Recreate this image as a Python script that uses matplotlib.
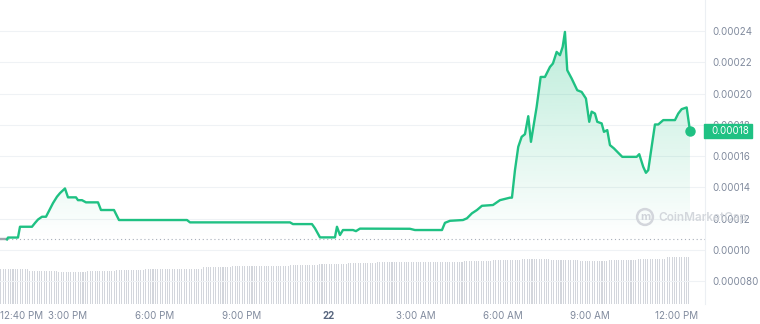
import numpy as np
import matplotlib.pyplot as plt
from matplotlib.patches import Rectangle, Polygon
from matplotlib.colors import to_rgb
from matplotlib.transforms import blended_transform_factory

plt.rcParams['font.family'] = ['Inter', 'DejaVu Sans']

# ---------------- data (time = hours since midnight of the 21st)
hours = [12.667, 12.894, 12.93, 13.274, 13.343, 13.757, 13.861, 13.964, 14.103, 14.241,
         14.482, 14.620, 14.724, 14.896, 15.0, 15.276, 15.345, 15.483, 15.621, 16.036,
         16.139, 16.588, 16.760, 19.108, 19.211, 22.663, 22.767, 23.422, 23.526, 23.699,
         24.216, 24.285, 24.389, 24.492, 24.838, 24.941, 25.079, 26.805, 26.978, 27.910,
         28.013, 28.186, 28.635, 28.773, 28.945, 29.118, 29.290, 29.670, 29.912, 30.257,
         30.326, 30.430, 30.543, 30.661, 30.775, 30.889, 30.982, 31.179, 31.317, 31.465,
         31.638, 31.741, 31.869, 31.983, 32.076, 32.155, 32.235, 32.387, 32.580, 32.732,
         32.880, 32.994, 33.077, 33.191, 33.271, 33.422, 33.502, 33.616, 33.709, 33.847,
         33.995, 34.134, 34.631, 34.720, 34.858, 34.951, 35.031, 35.148, 35.262, 35.376,
         35.549, 35.953, 36.067, 36.184, 36.357, 36.471]
price = [0.0001068, 0.0001068, 0.0001080, 0.0001080, 0.0001149, 0.0001149, 0.0001173, 0.0001195, 0.0001213, 0.0001213,
         0.0001300, 0.0001341, 0.0001364, 0.0001394, 0.0001337, 0.0001337, 0.0001319, 0.0001319, 0.0001305, 0.0001305,
         0.0001256, 0.0001256, 0.0001192, 0.0001192, 0.0001177, 0.0001177, 0.0001166, 0.0001166, 0.0001139, 0.0001081,
         0.0001081, 0.0001149, 0.0001096, 0.0001128, 0.0001128, 0.0001121, 0.0001137, 0.0001136, 0.0001128, 0.0001128,
         0.0001174, 0.0001187, 0.0001192, 0.0001203, 0.0001235, 0.0001256, 0.0001283, 0.0001288, 0.0001319, 0.0001335,
         0.0001335, 0.0001511, 0.0001660, 0.0001724, 0.0001741, 0.0001856, 0.0001692, 0.0001916, 0.0002107, 0.0002107,
         0.0002171, 0.0002193, 0.0002267, 0.0002246, 0.0002299, 0.0002395, 0.0002150, 0.0002097, 0.0002022, 0.0002011,
         0.0001969, 0.0001820, 0.0001885, 0.0001873, 0.0001820, 0.0001810, 0.0001756, 0.0001767, 0.0001671, 0.0001650,
         0.0001622, 0.0001596, 0.0001596, 0.0001613, 0.0001532, 0.0001494, 0.0001511, 0.0001660, 0.0001803, 0.0001803,
         0.0001831, 0.0001831, 0.0001873, 0.0001901, 0.0001912, 0.0001762]
open_price = 0.0001068

# volume per 5-min bar ($M), read once per hour starting 12:40 PM
vol_hourly = [0.908, 0.868, 0.855, 0.868, 0.895, 0.921, 0.934, 0.961, 0.987, 1.0,
              1.026, 1.053, 1.092, 1.113, 1.113, 1.118, 1.132, 1.158, 1.184, 1.171,
              1.132, 1.145, 1.184, 1.224]

xtick_pos = [12.667, 15, 18, 21, 24, 27, 30, 33, 36]
xtick_lab = ['12:40 PM', '3:00 PM', '6:00 PM', '9:00 PM', '22', '3:00 AM', '6:00 AM', '9:00 AM', '12:00 PM']
ytick_pos = [0.00008, 0.0001, 0.00012, 0.00014, 0.00016, 0.00018, 0.00020, 0.00022, 0.00024]
ytick_lab = ['0.000080', '0.00010', '0.00012', '0.00014', '0.00016', '0.00018', '0.00020', '0.00022', '0.00024']
last_label = '0.00018'

green = '#1fc183'
txt_gray = '#808a9d'

# ---------------- figure
fig = plt.figure(figsize=(7.6, 3.24), dpi=100)
ax_v = fig.add_axes([0, 20/324, 705/760, 304/324])
ax = ax_v.twinx()
ax.set_zorder(ax_v.get_zorder() + 1)
ax.patch.set_visible(False)

# volume bars
bar_t = np.arange(hours[0], hours[-1], 1/12)
bar_v = np.repeat(vol_hourly, 12)[:len(bar_t)]
ax_v.bar(bar_t, bar_v, width=0.036, color='#d3d6dc', linewidth=0, align='edge')
ax_v.set_ylim(0, 8)
ax_v.set_yticks([])
for s in ax_v.spines.values():
    s.set_visible(False)

# gradient area under the price
verts = list(zip(hours, price)) + [(hours[-1], open_price), (hours[0], open_price)]
poly = Polygon(verts, closed=True, facecolor='none', edgecolor='none')
ax.add_patch(poly)
rgba = np.zeros((256, 1, 4))
rgba[..., :3] = to_rgb(green)
rgba[..., 3] = np.linspace(0.0, 0.30, 256)[:, None]
im = ax.imshow(rgba, extent=[hours[0], hours[-1], open_price, max(price)],
               origin='lower', aspect='auto', zorder=1)
im.set_clip_path(poly)

# open-price dotted baseline
ax.axhline(open_price, color='#a9afba', lw=0.8, ls=(0, (1, 2.5)), zorder=2)

# price line
ax.plot(hours[:2], price[:2], color='#a0a4ad', lw=1.7, zorder=3, solid_capstyle='round')
ax.plot(hours[1:], price[1:], color=green, lw=1.7, zorder=3, solid_joinstyle='round')
ax.plot(hours[-1], price[-1], 'o', color=green, ms=6.5, zorder=4)

ax.set_xlim(12.653, 36.99)
ax.set_ylim(0.0000655, 0.0002599)

ax.set_yticks(ytick_pos)
ax.set_yticklabels(ytick_lab)
ax.yaxis.tick_right()
ax.tick_params(axis='y', length=0, pad=5, labelsize=7, labelcolor=txt_gray)
ax.grid(axis='y', color='#eff2f5', lw=0.8)
ax.set_axisbelow(True)

ax_v.set_xticks(xtick_pos)
ax_v.set_xticklabels(xtick_lab)
ax_v.tick_params(axis='x', length=0, pad=5, labelsize=7, labelcolor=txt_gray)
labs = ax_v.get_xticklabels()
labs[0].set_horizontalalignment('left')
labs[4].set_fontweight('bold')
labs[4].set_color('#58667e')

for name, s in ax.spines.items():
    s.set_visible(name == 'right')
ax.spines['right'].set_color('#eceff3')

# last price badge
tr = blended_transform_factory(fig.transFigure, ax.transData)
bh = 14 / 304 * (0.0002599 - 0.0000655)
ax.add_patch(Rectangle((704/760, price[-1] - bh/2), 48/760, bh, transform=tr,
                       color=green, clip_on=False, zorder=10))
ax.text(711/760, price[-1], last_label, transform=tr, color='white', fontsize=7,
        va='center', ha='left', zorder=11, clip_on=False)

# watermark
fig.text(645/760, 1 - 217/324, 'm', color='#cfd3d9', fontsize=8, fontweight='bold',
         ha='center', va='center', zorder=12,
         bbox=dict(boxstyle='circle,pad=0.25', fc='none', ec='#d3d6dc', lw=1.8))
fig.text(658/760, 1 - 218/324, 'CoinMarketCap', color='#cdd1d7', alpha=0.85, fontsize=8.5,
         fontweight='semibold', ha='left', va='center', zorder=12)

fig.savefig('out.png', dpi=100)
